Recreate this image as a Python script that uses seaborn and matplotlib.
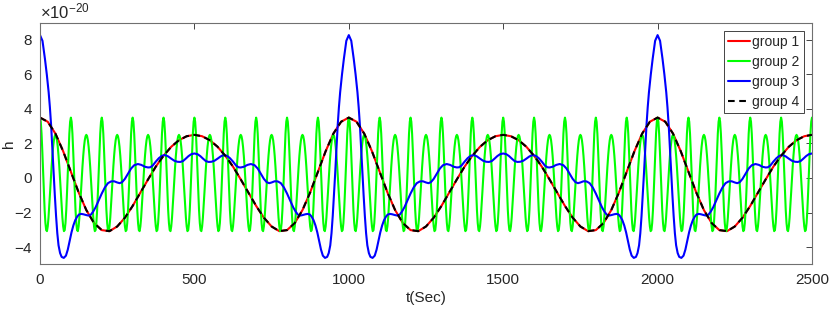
import numpy as np
import pandas as pd
import matplotlib
matplotlib.use("Agg")
import matplotlib.pyplot as plt
import seaborn as sns

# all values, in units of 1e-20

# group 1 (and group 4, drawn on top of it): one 1000 s cycle, a sample every 25 s
slow_step = 25
slow_cycle = [3.50, 3.26, 2.57, 1.55, 0.36, -0.83, -1.86, -2.61, -3.02, -3.08,
              -2.81, -2.30, -1.62, -0.85, -0.08, 0.66, 1.29, 1.81, 2.19, 2.42,
              2.50, 2.42, 2.19, 1.81, 1.29, 0.66, -0.08, -0.85, -1.62, -2.30,
              -2.81, -3.08, -3.02, -2.61, -1.86, -0.83, 0.36, 1.55, 2.57, 3.26]

# group 2: one 100 s cycle, a sample every 2.5 s
fast_step = 2.5
fast_cycle = [3.50, 3.26, 2.57, 1.55, 0.36, -0.83, -1.86, -2.61, -3.02, -3.08,
              -2.81, -2.30, -1.62, -0.85, -0.08, 0.66, 1.29, 1.81, 2.19, 2.42,
              2.50, 2.42, 2.19, 1.81, 1.29, 0.66, -0.08, -0.85, -1.62, -2.30,
              -2.81, -3.08, -3.02, -2.61, -1.86, -0.83, 0.36, 1.55, 2.57, 3.26]

# group 3: first half of its 1000 s cycle (0..500 s), second half is the mirror
blue_half_t = [0, 8, 16, 22, 28, 32, 36, 40, 44, 48, 52, 56, 60, 65, 70, 77, 84, 90,
               96, 102, 108, 114, 120, 126, 133, 140, 150, 158, 165, 172, 180, 190,
               200, 210, 220, 230, 240, 250, 258, 266, 275, 285, 295, 305, 317, 328,
               340, 350, 357, 365, 375, 385, 395, 405, 415, 425, 435, 445, 454, 463,
               472, 481, 490, 500]
blue_half_v = [8.28, 7.95, 6.90, 6.00, 4.97, 4.10, 3.05, 1.70, 0.30, -1.00, -2.20,
               -3.20, -3.90, -4.35, -4.57, -4.63, -4.50, -4.15, -3.65, -3.15, -2.75,
               -2.45, -2.25, -2.12, -2.08, -2.10, -2.15, -2.18, -2.12, -1.95, -1.70,
               -1.30, -0.90, -0.55, -0.30, -0.20, -0.19, -0.26, -0.30, -0.24, -0.05,
               0.25, 0.55, 0.74, 0.81, 0.76, 0.65, 0.61, 0.62, 0.72, 0.95, 1.15, 1.29,
               1.33, 1.25, 1.12, 1.00, 0.94, 0.93, 0.98, 1.12, 1.27, 1.38, 1.42]

groups = ["group 1", "group 2", "group 3", "group 4"]
colors = ["#ff0000", "#00ff00", "#0000ff", "#000000"]
t_end = 2500


def repeat_cycle(vals, step):
    n = int(round(t_end / step))
    return np.arange(n + 1) * step, np.resize(vals, n + 1)


t1, v1 = repeat_cycle(slow_cycle, slow_step)
t2, v2 = repeat_cycle(fast_cycle, fast_step)

cyc_t = blue_half_t + [1000 - x for x in blue_half_t[-2::-1]]
cyc_v = blue_half_v + blue_half_v[-2::-1]
t3 = np.concatenate([np.array(cyc_t[:-1]) + 1000 * k for k in range(3)])
v3 = np.concatenate([cyc_v[:-1]] * 3)
keep = t3 <= t_end
t3, v3 = t3[keep], v3[keep]

df = pd.concat([
    pd.DataFrame({"t": t1, "h": v1 * 1e-20, "group": "group 1"}),
    pd.DataFrame({"t": t2, "h": v2 * 1e-20, "group": "group 2"}),
    pd.DataFrame({"t": t3, "h": v3 * 1e-20, "group": "group 3"}),
    pd.DataFrame({"t": t1, "h": v1 * 1e-20, "group": "group 4"}),
])

sns.set_style("white")
plt.rcParams["font.family"] = ["Liberation Sans", "DejaVu Sans"]
plt.rcParams["mathtext.fontset"] = "custom"
plt.rcParams["mathtext.rm"] = "Liberation Sans"
plt.rcParams["mathtext.it"] = "Liberation Sans:italic"
plt.rcParams["axes.unicode_minus"] = False
plt.rcParams["text.color"] = "#262626"
plt.rcParams["xtick.color"] = "#262626"
plt.rcParams["ytick.color"] = "#262626"

fig, ax = plt.subplots(figsize=(8.3, 3.15), dpi=100)
fig.subplots_adjust(left=0.0482, right=0.9783, bottom=0.161, top=0.928)

for g, c in zip(groups, colors):
    d = df[df["group"] == g]
    sns.lineplot(data=d, x="t", y="h", color=c, linewidth=1.5, label=g,
                 estimator=None, sort=False, ax=ax)
ax.lines[-1].set_dashes([3.2, 2.2])

ax.set_xlim(0, 2500)
ax.set_ylim(-5e-20, 9e-20)
ax.set_xticks([0, 500, 1000, 1500, 2000, 2500])
ax.set_yticks(np.arange(-4, 9, 2) * 1e-20)
ax.ticklabel_format(axis="y", style="sci", scilimits=(0, 0), useMathText=True)

ax.tick_params(direction="in", top=True, right=True, length=4, width=0.6,
               labelsize=11)
ax.tick_params(axis="x", pad=6)
ax.tick_params(axis="y", pad=5)
ax.yaxis.get_offset_text().set_fontsize(12)
for s in ax.spines.values():
    s.set_color("#707070")
    s.set_linewidth(0.8)

ax.set_xlabel("t(Sec)", fontsize=11, labelpad=3)
ax.set_ylabel("h", fontsize=11)
ax.yaxis.set_label_coords(-0.031, 0.5)

leg = ax.legend(loc="upper right", fontsize=10, frameon=True, fancybox=False,
                framealpha=1, edgecolor="#262626", handlelength=1.6,
                handletextpad=0.15, borderpad=0.3, labelspacing=0.42,
                borderaxespad=0.6)
leg.get_frame().set_linewidth(0.6)

fig.savefig("out.png", dpi=100)
